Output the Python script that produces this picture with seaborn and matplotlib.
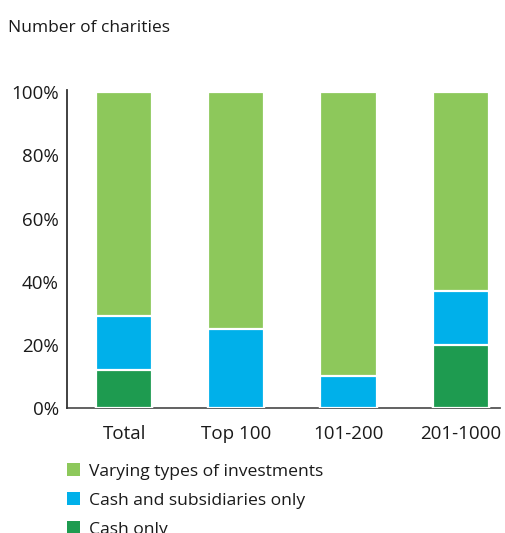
import matplotlib
matplotlib.use("Agg")
import matplotlib.pyplot as plt
from matplotlib.patches import Patch
import seaborn as sns
import pandas as pd

categories = ["Total", "Top 100", "101-200", "201-1000"]
cash_only = [12, 0, 0, 20]
cash_and_subsidiaries = [17, 25, 10, 17]
varying_investments = [71, 75, 90, 63]
y_ticks = [0, 20, 40, 60, 80, 100]

series_names = ["Varying types of investments", "Cash and subsidiaries only", "Cash only"]
colors = {"Varying types of investments": "#8DC85B",
          "Cash and subsidiaries only": "#00B0EA",
          "Cash only": "#1E9B50"}

sns.set_theme(style="white")
plt.rcParams["font.family"] = ["Open Sans", "DejaVu Sans"]
text_color = "#1a1a1a"

df = pd.DataFrame({
    "category": categories,
    "Cash only": cash_only,
    "Cash and subsidiaries only": cash_and_subsidiaries,
    "Varying types of investments": varying_investments,
})
# cumulative tops for stacking by overdrawing
df["top_cash"] = df["Cash only"]
df["top_subs"] = df["top_cash"] + df["Cash and subsidiaries only"]
df["top_all"] = df["top_subs"] + df["Varying types of investments"]

fig = plt.figure(figsize=(5.06, 5.33), dpi=100)
ax = fig.add_axes([0.1324, 0.2345, 0.8556, 0.5966])

layers = [("top_all", "Varying types of investments"),
          ("top_subs", "Cash and subsidiaries only"),
          ("top_cash", "Cash only")]
for col, name in layers:
    sns.barplot(data=df.assign(v=df[col].where(df[col] > 0)), x="category", y="v",
                order=categories, color=colors[name], width=0.5,
                edgecolor="white", linewidth=1.6, saturation=1, ax=ax)

ax.set_ylim(0, 100.7)
ax.set_xlim(-0.51, 3.35)
ax.set_yticks(y_ticks)
ax.set_yticklabels([f"{t}%" for t in y_ticks])
ax.set_xlabel("")
ax.set_ylabel("")
ax.tick_params(axis="both", length=0, labelsize=13.5, colors=text_color)
ax.tick_params(axis="y", pad=6)
ax.tick_params(axis="x", pad=12)
for s in ["top", "right"]:
    ax.spines[s].set_visible(False)
ax.spines["left"].set_color("#333333")
ax.spines["left"].set_linewidth(1.3)
ax.spines["bottom"].set_color("#555555")
ax.spines["bottom"].set_linewidth(1.3)
ax.spines["bottom"].set_zorder(0.5)

fig.text(0.016, 0.947, "Number of charities", fontsize=12.5, color=text_color,
         ha="left", va="center")

handles = [Patch(facecolor=colors[n], edgecolor="none") for n in series_names]
fig.legend(handles, series_names, loc="upper left", bbox_to_anchor=(0.1324, 0.1307),
           frameon=False, fontsize=12.6, handlelength=0.74, handleheight=0.74,
           handletextpad=0.5, labelspacing=0.71, labelcolor=text_color,
           borderaxespad=0, borderpad=0)

fig.savefig("out.png", dpi=100)
